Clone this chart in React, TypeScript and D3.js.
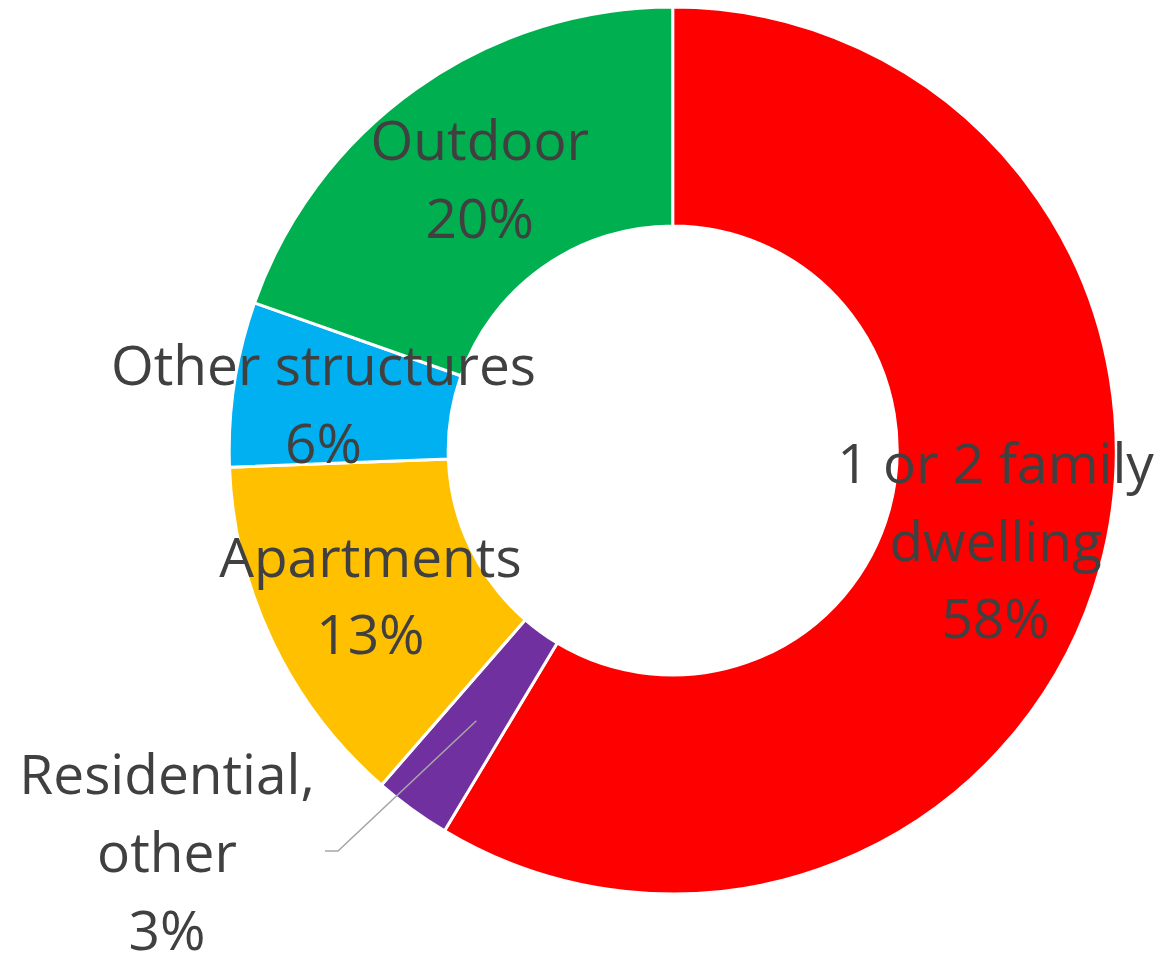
import React from "react";
import * as d3 from "d3";

const categories = ["1 or 2 family dwelling", "Residential, other", "Apartments", "Other structures", "Outdoor"];
const values = [58.6, 2.8, 13.0, 6.0, 19.6];
const percentLabels = ["58%", "3%", "13%", "6%", "20%"];
const labelLines = [
  ["1 or 2 family", "dwelling"],
  ["Residential,", "other"],
  ["Apartments"],
  ["Other structures"],
  ["Outdoor"],
];
const colors = ["#FF0000", "#7030A0", "#FFC000", "#00B0F0", "#00B050"];

const W = 1164;
const H = 957;
const CX = 672.7;
const CY = 450.5;
const R_OUT = 443.5;
const R_IN = 224.5;
const FONT = "'Open Sans', sans-serif";
const FS = 55;
const LH = 77.7;
const CAP = 40;

// label offsets from arc centroid (layout only)
const labelOffsets = [
  { dx: 1, dy: 1, outside: false },
  { dx: 0, dy: 0, outside: true },
  { dx: -1, dy: 1, outside: false },
  { dx: -19, dy: 4, outside: false },
  { dx: 0, dy: 1, outside: false },
];

export default function App() {
  const pie = d3.pie<number>().value((d) => d).sort(null);
  const arcs = pie(values);
  const arc = d3.arc<d3.PieArcDatum<number>>().innerRadius(R_IN).outerRadius(R_OUT);

  return (
    <svg width={W} height={H} style={{ position: "absolute", left: 0, top: 0, background: "#fff" }}>
      <g transform={`translate(${CX},${CY})`}>
        {arcs.map((a, i) => (
          <path key={i} d={arc(a) || ""} fill={colors[i]} stroke="#FFFFFF" strokeWidth={3} strokeLinejoin="round" />
        ))}
      </g>
      {arcs.map((a, i) => {
        const lines = [...labelLines[i], percentLabels[i]];
        const off = labelOffsets[i];
        const [ax, ay] = arc.centroid(a);
        let x: number;
        let y: number;
        let leader: React.ReactNode = null;
        if (off.outside) {
          const sx = CX + ax;
          const sy = CY + ay;
          x = 167;
          y = 852;
          const ex = 338;
          const ey = 851;
          leader = (
            <polyline
              points={`${sx},${sy} ${ex},${ey} ${ex - 13},${ey}`}
              fill="none"
              stroke="#A6A6A6"
              strokeWidth={1.5}
            />
          );
        } else {
          x = CX + ax + off.dx;
          y = CY + ay + off.dy;
        }
        const n = lines.length;
        return (
          <g key={`l${i}`}>
            {leader}
            <text textAnchor="middle" fontFamily={FONT} fontSize={FS} fill="#404040">
              {lines.map((t, j) => (
                <tspan key={j} x={x} y={y + (j - (n - 1) / 2) * LH + CAP / 2}>
                  {t}
                </tspan>
              ))}
            </text>
          </g>
        );
      })}
    </svg>
  );
}
